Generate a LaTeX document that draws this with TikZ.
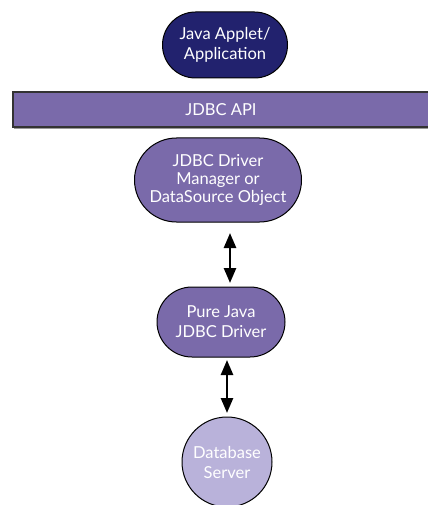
\documentclass[tikz,border=0pt]{standalone}
\usepackage{fontspec}
\setmainfont{Lato}
\usetikzlibrary{shapes.misc,arrows.meta}
\definecolor{navy}{HTML}{22226E}
\definecolor{purp}{HTML}{7A6AAA}
\definecolor{lav}{HTML}{B9B2DA}
\begin{document}
\begin{tikzpicture}[x=1pt,y=-1pt,
  stadium/.style={rounded rectangle, draw=black, line width=1pt, text=white, align=center, font=\fontsize{16.5}{20}\selectfont, inner sep=0pt},
  link/.style={{Triangle[length=15pt,width=12pt]}-{Triangle[length=15pt,width=12pt]}, line width=2.5pt, black}]
\useasboundingbox (0,0) rectangle (428,505);
% JDBC API bar
\fill[purp] (13,92) rectangle (428,127);
\draw[line width=1.2pt, black!80] (428,92) -- (13,92) -- (13,127) -- (428,127);
\draw[line width=1pt, black!40] (14,128.5) -- (428,128.5);
\node[text=white, font=\fontsize{16.5}{20}\selectfont] (api) at (221,109.5) {JDBC API};
% nodes
\node[stadium, fill=navy, minimum width=125pt, minimum height=66pt] (app) at (225,45) {Java Applet/\\Application};
\node[stadium, fill=purp, minimum width=167pt, minimum height=84pt, font=\fontsize{16.5}{18}\selectfont] (dm) at (218,180) {JDBC Driver\\Manager or\\DataSource Object};
\node[stadium, fill=purp, minimum width=128pt, minimum height=70pt] (drv) at (221,322) {Pure Java\\JDBC Driver};
\node[circle, draw=black, line width=1pt, fill=lav, text=white, align=center, minimum size=90pt, inner sep=0pt, font=\fontsize{16.5}{20}\selectfont] (db) at (227,462) {Database\\Server};
% connectors
\coordinate (a1) at (230,233);
\coordinate (a2) at (230,283);
\coordinate (b1) at (227,360);
\coordinate (b2) at (227,413);
\draw[link] (a1) -- (a2);
\draw[link] (b1) -- (b2);
\end{tikzpicture}
\end{document}
